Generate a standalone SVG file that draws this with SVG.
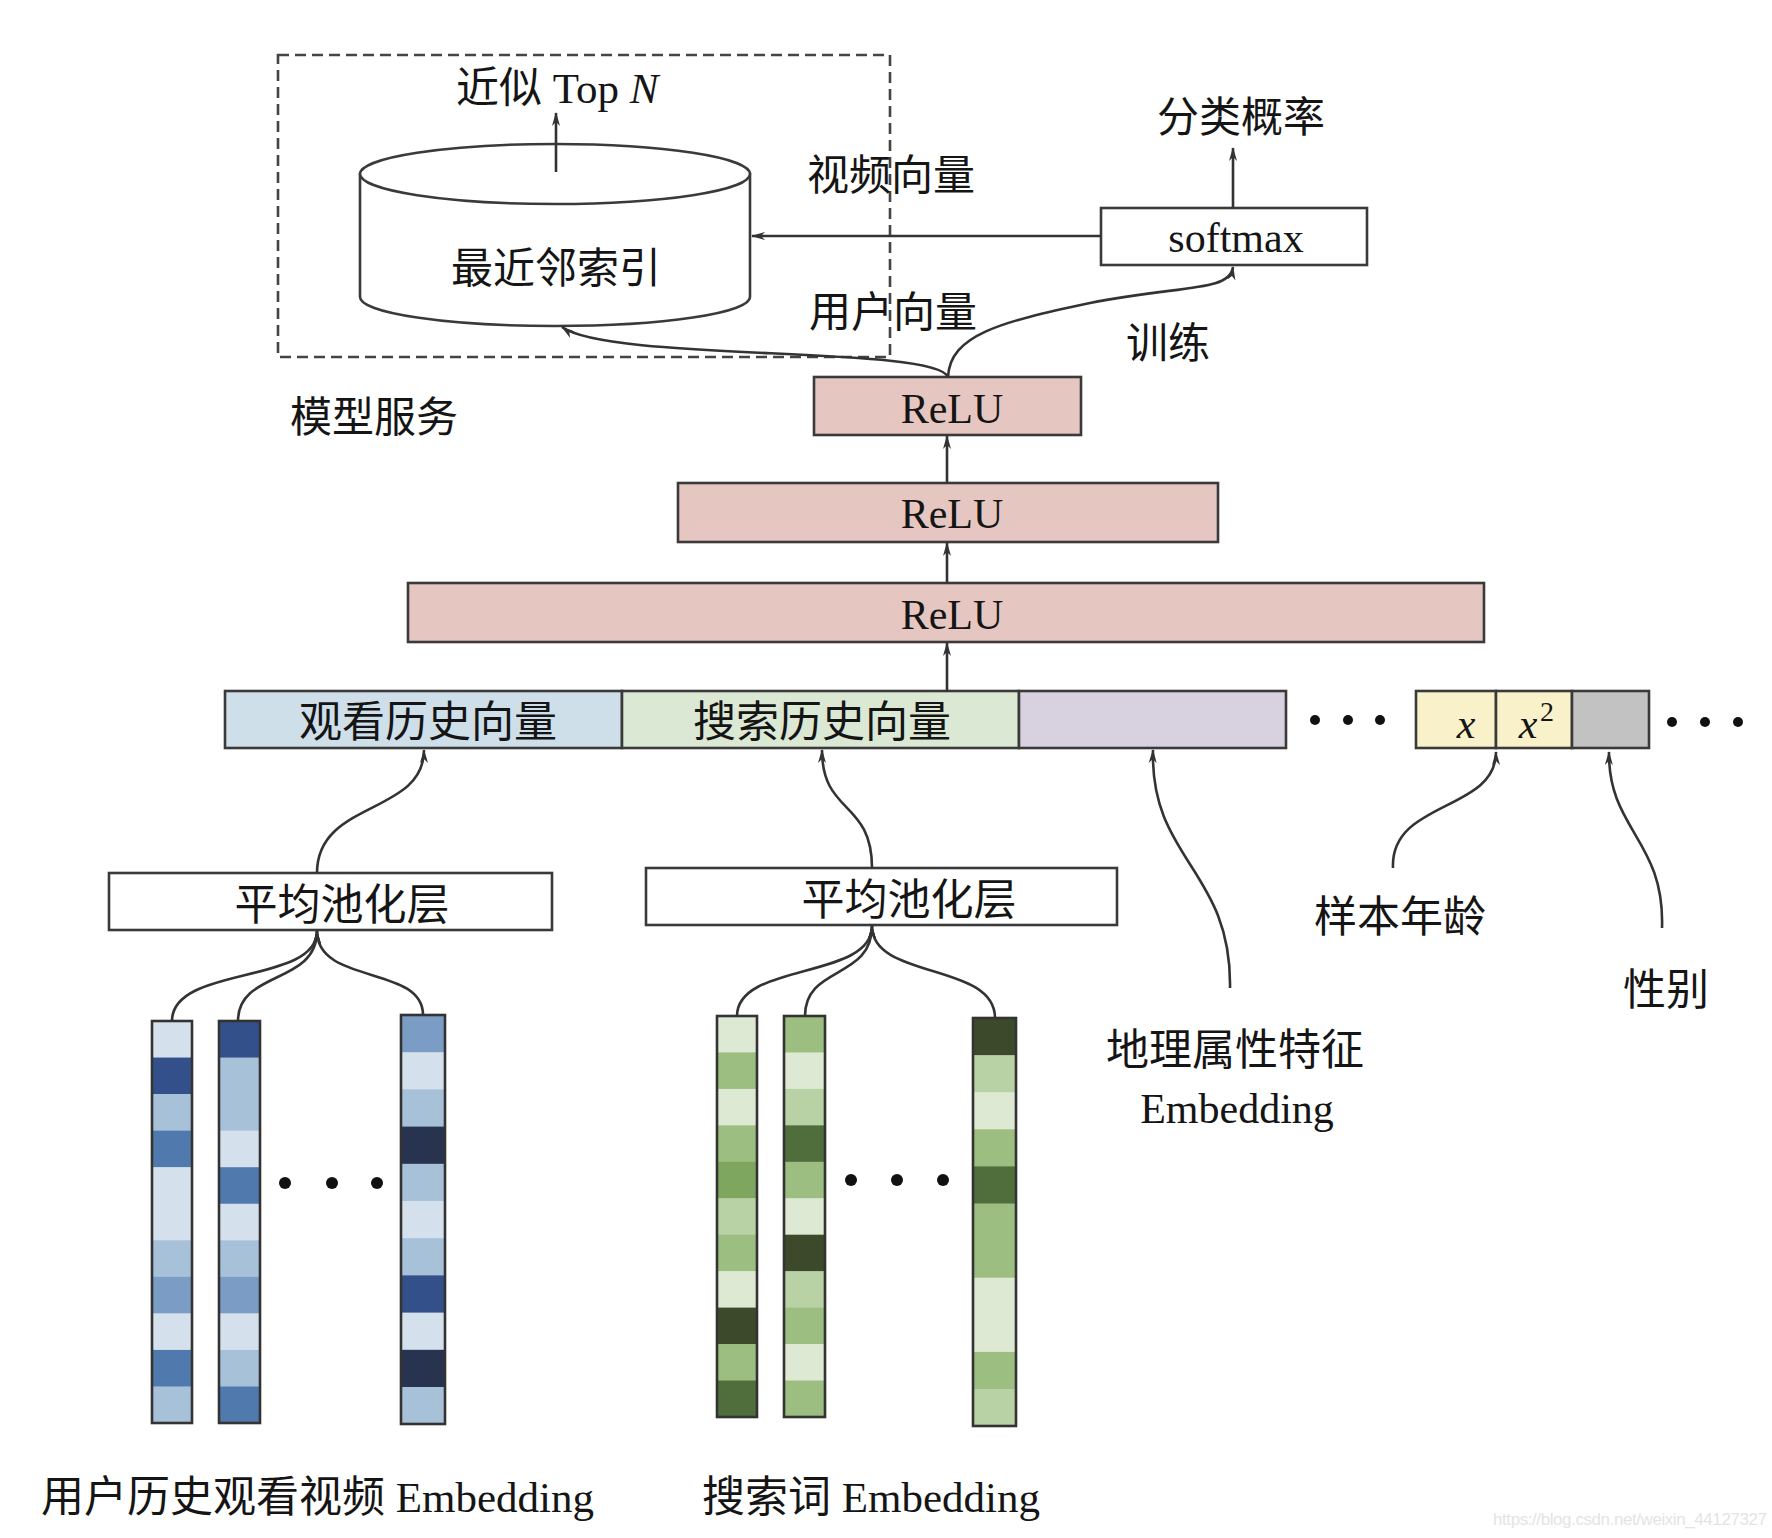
<svg xmlns="http://www.w3.org/2000/svg" width="1772" height="1538" viewBox="0 0 1772 1538">
<defs>
<style>
.t{font-family:"Liberation Serif","Noto Sans CJK SC",serif;font-size:42px;fill:#151515}
.t43{font-size:43px}
.ti{font-family:"Liberation Serif",serif;font-style:italic;font-size:42px;fill:#151515}
.sup{font-family:"Liberation Serif",serif;font-size:28px;fill:#151515}
.box{stroke:#3a3a3a;stroke-width:2.6}
.c{fill:none;stroke:#333;stroke-width:2.6}
.a{marker-end:url(#ah)}
.col{fill:none;stroke:#333;stroke-width:2.6}
.dot{fill:#111}
.L1{fill:#d4e1ec}.L2{fill:#a7c1d9}.M{fill:#7b9dc5}.D1{fill:#5079ae}.D2{fill:#34508a}.D3{fill:#27334f}
.G1{fill:#dee9d3}.G2{fill:#b8d1a5}.G3{fill:#9cbe80}.G4{fill:#7ea65f}.G5{fill:#506e3c}.G6{fill:#3c492b}
</style>
<marker id="ah" viewBox="0 0 14 10" refX="13" refY="5" markerWidth="14" markerHeight="10" markerUnits="userSpaceOnUse" orient="auto">
<path d="M0,1 L14,5 L0,9 L4,5 z" fill="#333"/>
</marker>
</defs>
<rect width="1772" height="1538" fill="#fff"/>

<g id="model-service">
<rect x="278" y="55" width="612" height="302" fill="none" stroke="#444" stroke-width="2.6" stroke-dasharray="11 6"/>
<text class="t" x="290" y="432">模型服务</text>
</g>

<g id="nn-index">
<path d="M360,174 L360,297 A195,29 0 0 0 750,297 L750,174 Z" fill="#fff" class="box"/>
<ellipse cx="555" cy="174" rx="195" ry="30" fill="#fff" class="box"/>
<text class="t" x="556" y="283" text-anchor="middle">最近邻索引</text>
</g>

<g id="topn">
<text class="t t43" x="456" y="103">近似 Top <tspan font-style="italic">N</tspan></text>
</g>

<g id="softmax">
<rect x="1101" y="208" width="266" height="57" fill="#fff" class="box"/>
<text class="t" x="1236" y="252" text-anchor="middle">softmax</text>
</g>

<g id="prob">
<text class="t" x="1241" y="132" text-anchor="middle">分类概率</text>
</g>

<g id="relu1">
<rect x="814" y="377" width="267" height="58" fill="#e6c6c1" class="box"/>
<text class="t" x="952" y="423" text-anchor="middle">ReLU</text>
</g>
<g id="relu2">
<rect x="678" y="483" width="540" height="59" fill="#e6c6c1" class="box"/>
<text class="t" x="952" y="528" text-anchor="middle">ReLU</text>
</g>
<g id="relu3">
<rect x="408" y="583" width="1076" height="59" fill="#e6c6c1" class="box"/>
<text class="t" x="952" y="629" text-anchor="middle">ReLU</text>
</g>

<g id="features">
<rect x="225" y="691" width="397" height="57" fill="#cfdfe9" class="box"/>
<text class="t t43" x="428" y="737" text-anchor="middle">观看历史向量</text>
<rect x="622" y="691" width="397" height="57" fill="#dbe8d3" class="box"/>
<text class="t t43" x="822" y="737" text-anchor="middle">搜索历史向量</text>
<rect x="1019" y="691" width="267" height="57" fill="#d8d1df" class="box"/>
<circle class="dot" cx="1315" cy="720" r="5"/>
<circle class="dot" cx="1348" cy="720" r="5"/>
<circle class="dot" cx="1380" cy="720" r="5"/>
<rect x="1416" y="691" width="80" height="57" fill="#f9f1c9" class="box"/>
<text class="ti" x="1466" y="738" text-anchor="middle">x</text>
<rect x="1496" y="691" width="76" height="57" fill="#f9f1c9" class="box"/>
<text class="ti" x="1528" y="738" text-anchor="middle">x</text>
<text class="sup" x="1540" y="721">2</text>
<rect x="1572" y="691" width="77" height="57" fill="#c2c2c2" class="box"/>
<circle class="dot" cx="1672" cy="722" r="5"/>
<circle class="dot" cx="1705" cy="722" r="5"/>
<circle class="dot" cx="1738" cy="722" r="5"/>
</g>

<g id="pool1">
<rect x="109" y="873" width="443" height="57" fill="#fff" class="box"/>
<text class="t t43" x="342" y="920" text-anchor="middle">平均池化层</text>
</g>
<g id="pool2">
<rect x="646" y="868" width="471" height="57" fill="#fff" class="box"/>
<text class="t t43" x="909" y="915" text-anchor="middle">平均池化层</text>
</g>

<g id="user-emb">
<g transform="translate(152,1021)">
<rect class="L1" y="0" width="40" height="37"/><rect class="D2" y="36.55" width="40" height="37"/><rect class="L2" y="73.1" width="40" height="37"/><rect class="D1" y="109.65" width="40" height="37"/><rect class="L1" y="146.2" width="40" height="74"/><rect class="L2" y="219.3" width="40" height="37"/><rect class="M" y="255.85" width="40" height="37"/><rect class="L1" y="292.4" width="40" height="37"/><rect class="D1" y="328.95" width="40" height="37"/><rect class="L2" y="365.5" width="40" height="36.5"/>
<rect class="col" width="40" height="402"/>
</g>
<g transform="translate(219,1021)">
<rect class="D2" y="0" width="41" height="37"/><rect class="L2" y="36.55" width="41" height="74"/><rect class="L1" y="109.65" width="41" height="37"/><rect class="D1" y="146.2" width="41" height="37"/><rect class="L1" y="182.75" width="41" height="37"/><rect class="L2" y="219.3" width="41" height="37"/><rect class="M" y="255.85" width="41" height="37"/><rect class="L1" y="292.4" width="41" height="37"/><rect class="L2" y="328.95" width="41" height="37"/><rect class="D1" y="365.5" width="41" height="36.5"/>
<rect class="col" width="41" height="402"/>
</g>
<circle class="dot" cx="285" cy="1183" r="6"/>
<circle class="dot" cx="332" cy="1183" r="6"/>
<circle class="dot" cx="377" cy="1183" r="6"/>
<g transform="translate(401,1015)">
<rect class="M" y="0" width="44" height="38"/><rect class="L1" y="37.2" width="44" height="38"/><rect class="L2" y="74.4" width="44" height="38"/><rect class="D3" y="111.6" width="44" height="38"/><rect class="L2" y="148.8" width="44" height="38"/><rect class="L1" y="186" width="44" height="38"/><rect class="L2" y="223.2" width="44" height="38"/><rect class="D2" y="260.4" width="44" height="38"/><rect class="L1" y="297.6" width="44" height="38"/><rect class="D3" y="334.8" width="44" height="38"/><rect class="L2" y="372" width="44" height="37"/>
<rect class="col" width="44" height="409"/>
</g>
<text class="t t43" x="41" y="1512">用户历史观看视频 Embedding</text>
</g>

<g id="search-emb">
<g transform="translate(717,1016)">
<rect class="G1" y="0" width="40" height="37"/><rect class="G3" y="36.45" width="40" height="37"/><rect class="G1" y="72.9" width="40" height="37"/><rect class="G3" y="109.35" width="40" height="37"/><rect class="G4" y="145.8" width="40" height="37"/><rect class="G2" y="182.25" width="40" height="37"/><rect class="G3" y="218.7" width="40" height="37"/><rect class="G1" y="255.15" width="40" height="37"/><rect class="G6" y="291.6" width="40" height="37"/><rect class="G3" y="328.05" width="40" height="37"/><rect class="G5" y="364.5" width="40" height="36.5"/>
<rect class="col" width="40" height="401"/>
</g>
<g transform="translate(784,1016)">
<rect class="G3" y="0" width="41" height="37"/><rect class="G1" y="36.45" width="41" height="37"/><rect class="G2" y="72.9" width="41" height="37"/><rect class="G5" y="109.35" width="41" height="37"/><rect class="G3" y="145.8" width="41" height="37"/><rect class="G1" y="182.25" width="41" height="37"/><rect class="G6" y="218.7" width="41" height="37"/><rect class="G2" y="255.15" width="41" height="37"/><rect class="G3" y="291.6" width="41" height="37"/><rect class="G1" y="328.05" width="41" height="37"/><rect class="G3" y="364.5" width="41" height="36.5"/>
<rect class="col" width="41" height="401"/>
</g>
<circle class="dot" cx="851" cy="1180" r="6"/>
<circle class="dot" cx="897" cy="1180" r="6"/>
<circle class="dot" cx="943" cy="1180" r="6"/>
<g transform="translate(973,1018)">
<rect class="G6" y="0" width="43" height="38"/><rect class="G2" y="37.1" width="43" height="38"/><rect class="G1" y="74.2" width="43" height="38"/><rect class="G3" y="111.3" width="43" height="38"/><rect class="G5" y="148.4" width="43" height="38"/><rect class="G3" y="185.5" width="43" height="75"/><rect class="G1" y="259.7" width="43" height="75"/><rect class="G3" y="333.9" width="43" height="38"/><rect class="G2" y="371" width="43" height="37"/>
<rect class="col" width="43" height="408"/>
</g>
<text class="t t43" x="702" y="1512">搜索词 Embedding</text>
</g>

<g id="geo">
<text class="t t43" x="1235" y="1065" text-anchor="middle">地理属性特征</text>
<text class="t" x="1237" y="1123" text-anchor="middle">Embedding</text>
</g>
<g id="age">
<text class="t t43" x="1314" y="932">样本年龄</text>
</g>
<g id="gender">
<text class="t t43" x="1623" y="1005">性别</text>
</g>

<g id="connectors">
<line class="c a" x1="556" y1="172" x2="556" y2="113"/>
<line class="c a" x1="1101" y1="236" x2="752" y2="236"/>
<line class="c a" x1="1233" y1="208" x2="1233" y2="148"/>
<path class="c a" d="M948,377 C935,345 610,362 562,327"/>
<path class="c a" d="M948,377 C950,335 1000,322 1090,303 C1180,285 1230,292 1233,267"/>
<line class="c a" x1="947" y1="483" x2="947" y2="436"/>
<line class="c a" x1="947" y1="583" x2="947" y2="543"/>
<line class="c a" x1="947" y1="691" x2="947" y2="643"/>
<path class="c a" d="M317,873 C317,800 424,815 424,750"/>
<path class="c a" d="M872,868 C872,800 822,815 822,750"/>
<path class="c a" d="M1230,988 C1232,870 1150,860 1153,750"/>
<path class="c a" d="M1393,868 C1390,800 1496,812 1496,752"/>
<path class="c a" d="M1662,928 C1665,840 1608,830 1609,752"/>
<path class="c a" d="M172,1021 C172,965 317,985 317,931"/>
<path class="c a" d="M238,1021 C238,970 317,985 317,931"/>
<path class="c a" d="M423,1015 C423,965 317,985 317,931"/>
<path class="c a" d="M737,1016 C737,962 872,980 872,926"/>
<path class="c a" d="M805,1016 C805,965 872,980 872,926"/>
<path class="c a" d="M995,1018 C995,962 872,980 872,926"/>
</g>

<g id="labels">
<text class="t" x="807" y="190">视频向量</text>
<text class="t" x="809" y="327">用户向量</text>
<text class="t" x="1126" y="358">训练</text>
</g>

<text x="1493" y="1525" font-family="Liberation Sans, sans-serif" font-size="17" fill="#e4e4e4" textLength="274">https://blog.csdn.net/weixin_44127327</text>
</svg>
